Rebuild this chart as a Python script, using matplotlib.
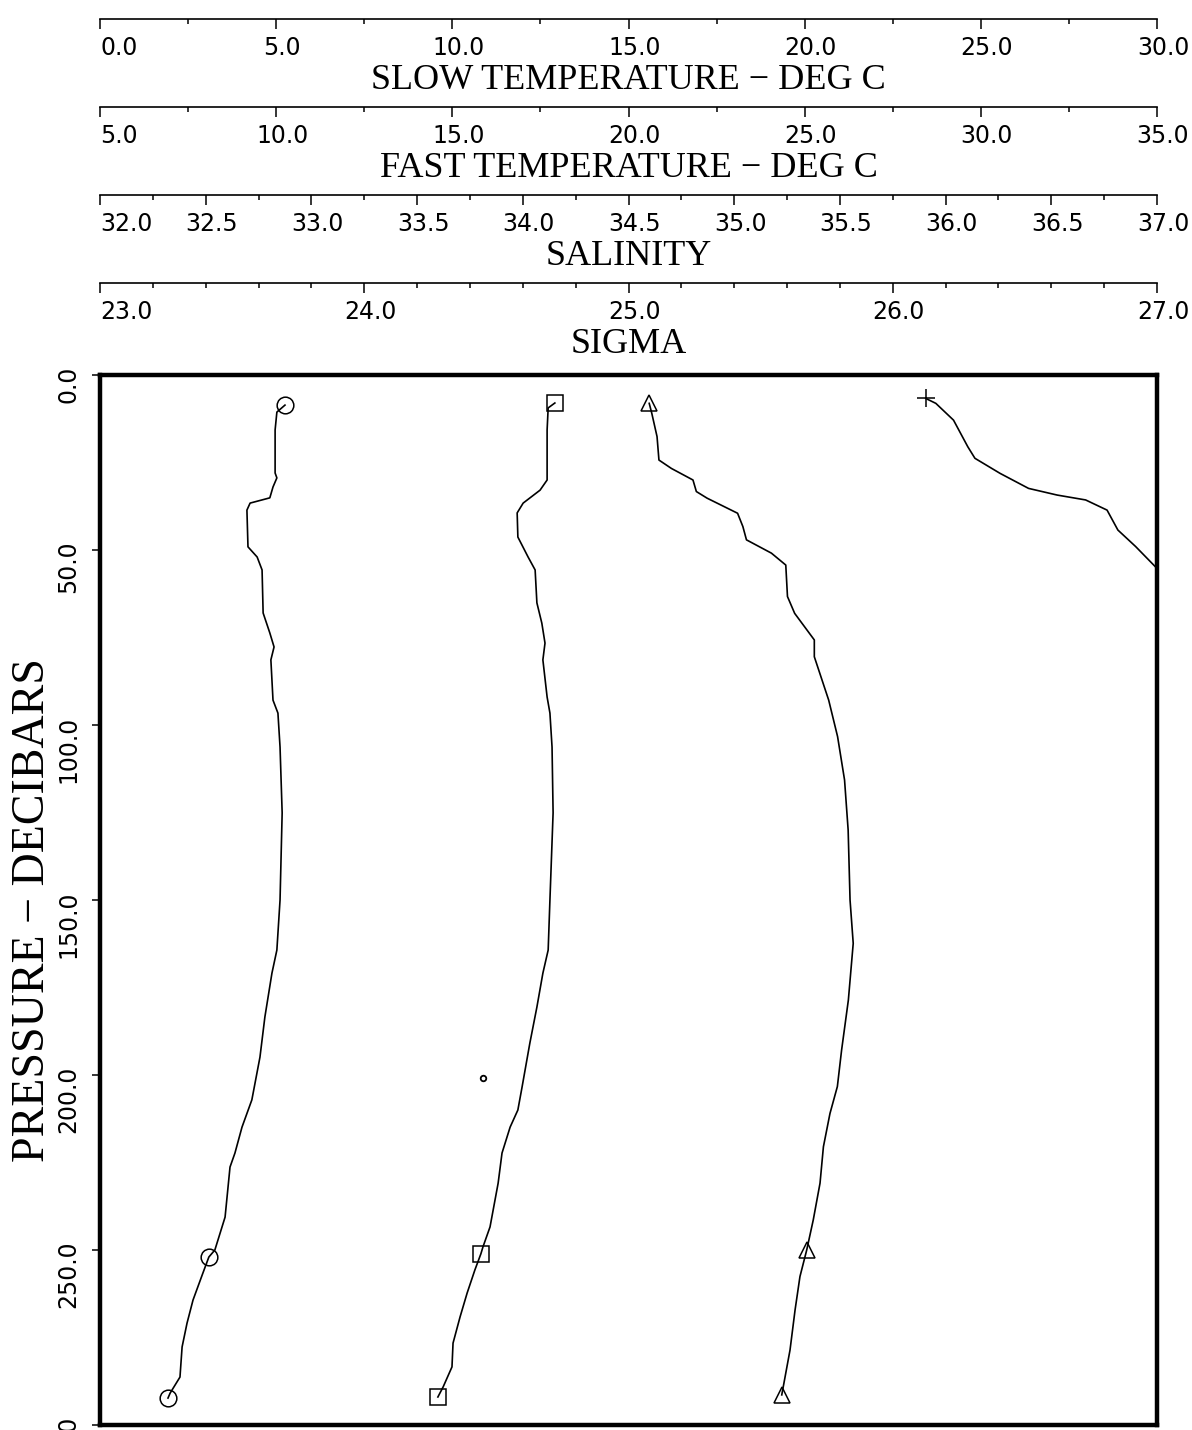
import matplotlib
matplotlib.use("Agg")
import matplotlib.pyplot as plt
from matplotlib.ticker import MultipleLocator, FormatStrFormatter
from matplotlib.transforms import ScaledTranslation

# ---- data ----
slow_temp = [5.25, 5.02, 4.97, 4.97, 5.02, 4.91, 4.82, 4.26, 4.17, 4.20, 4.46, 4.60,
             4.63, 4.82, 4.94, 4.85, 4.91, 5.05, 5.11, 5.17, 5.11, 5.02, 4.88, 4.68,
             4.54, 4.31, 4.03, 3.83, 3.69, 3.55, 3.26, 3.09, 2.92, 2.64, 2.47, 2.33,
             2.27, 1.99, 1.93]
slow_pres = [8.6, 10.6, 15.7, 28.0, 29.4, 32.0, 35.1, 36.6, 38.6, 49.1, 52.0, 55.7,
             68.0, 73.7, 77.7, 81.4, 92.9, 96.6, 106.3, 125.1, 150.0, 164.3, 170.9, 183.4,
             194.9, 207.1, 214.9, 222.3, 226.3, 240.6, 250.0, 252.0, 256.6, 264.3, 270.9, 277.7,
             286.3, 290.9, 292.3]
slow_marks = [8.6, 252.0, 292.3]

fast_temp = [17.91, 17.72, 17.69, 17.69, 17.49, 17.01, 16.84, 16.86, 17.15, 17.35,
             17.40, 17.54, 17.63, 17.57, 17.69, 17.77, 17.83, 17.86, 17.77, 17.72,
             17.57, 17.40, 17.20, 16.98, 16.86, 16.64, 16.41, 16.30, 16.07, 15.87,
             15.81, 15.64, 15.42, 15.22, 15.02, 14.99, 14.74, 14.59]
fast_pres = [8.0, 9.4, 15.7, 30.0, 32.9, 36.6, 39.4, 46.3, 52.0, 55.7,
             65.1, 70.9, 76.6, 81.4, 92.0, 96.6, 106.3, 125.1, 150.0, 164.3,
             170.9, 180.6, 190.9, 203.4, 210.0, 214.9, 222.3, 230.9, 243.4, 249.1,
             251.1, 255.7, 262.3, 269.1, 276.6, 283.4, 289.1, 292.0]
fast_marks = [8.0, 251.1, 292.0]
stray_temp = [15.87]
stray_pres = [200.9]

salinity = [34.598, 34.610, 34.635, 34.644, 34.703, 34.805, 34.821, 34.872, 35.016,
            35.041, 35.058, 35.176, 35.244, 35.252, 35.286, 35.379, 35.379, 35.447,
            35.489, 35.522, 35.539, 35.548, 35.563, 35.540, 35.508, 35.488, 35.453,
            35.422, 35.406, 35.374, 35.343, 35.311, 35.288, 35.264, 35.225]
sal_pres = [8.1, 10.9, 17.6, 24.3, 26.7, 30.0, 33.3, 35.2, 39.5,
            43.3, 47.1, 50.9, 54.3, 63.3, 68.1, 75.7, 80.5, 92.9,
            103.3, 115.7, 130.0, 150.0, 162.4, 178.6, 192.9, 203.3, 211.0,
            220.5, 230.9, 241.4, 250.0, 257.6, 267.1, 278.6, 291.4]
sal_marks = [8.1, 250.0, 291.4]

sigma = [26.125, 26.163, 26.230, 26.284, 26.311, 26.406, 26.514, 26.622, 26.730,
         26.811, 26.852, 26.919, 26.994]
sigma_pres = [6.7, 8.1, 12.9, 20.5, 23.8, 28.1, 32.4, 34.3, 35.7,
              38.6, 44.3, 49.0, 54.8]
sigma_marks = [6.7]

slow_ticks = [0.0, 5.0, 10.0, 15.0, 20.0, 25.0, 30.0]
fast_ticks = [5.0, 10.0, 15.0, 20.0, 25.0, 30.0, 35.0]
sal_ticks = [32.0, 32.5, 33.0, 33.5, 34.0, 34.5, 35.0, 35.5, 36.0, 36.5, 37.0]
sigma_ticks = [23.0, 24.0, 25.0, 26.0, 27.0]
pres_ticks = [0.0, 50.0, 100.0, 150.0, 200.0, 250.0, 300.0]

SERIF = "Liberation Serif"
SANS = "DejaVu Sans"

W, H = 1192, 1430
fig = plt.figure(figsize=(W / 100, H / 100), dpi=100)
fig.patch.set_facecolor("white")

left, right, top, bottom = 100, 1157, 375, 1425
box = [left / W, 1 - bottom / H, (right - left) / W, (bottom - top) / H]


def top_scale(y_px, ticks, minor, title):
    tax = fig.add_axes([box[0], 1 - y_px / H, box[2], 0.0001])
    tax.patch.set_visible(False)
    for side in ["top", "left", "right"]:
        tax.spines[side].set_visible(False)
    tax.spines["bottom"].set_linewidth(1.2)
    tax.set_yticks([])
    tax.set_xlim(ticks[0], ticks[-1])
    tax.set_xticks(ticks)
    tax.xaxis.set_minor_locator(MultipleLocator(minor))
    tax.xaxis.set_major_formatter(FormatStrFormatter("%.1f"))
    tax.tick_params(axis="x", which="major", direction="out", length=7, width=1.1,
                    labelsize=17, pad=5)
    tax.tick_params(axis="x", which="minor", direction="out", length=3.5, width=1.1)
    for lab in tax.get_xticklabels():
        lab.set_family(SANS)
    labs = tax.get_xticklabels()
    labs[0].set_horizontalalignment("left")
    shift = ScaledTranslation(0.06, 0, fig.dpi_scale_trans)
    for lab in labs[1:]:
        lab.set_transform(lab.get_transform() + shift)
    tax.set_xlabel(title, fontsize=26, family=SERIF, labelpad=3)
    return tax


top_scale(19, slow_ticks, 2.5, "SLOW TEMPERATURE \u2212 DEG C")
top_scale(107, fast_ticks, 2.5, "FAST TEMPERATURE \u2212 DEG C")
top_scale(195, sal_ticks, 0.25, "SALINITY")
top_scale(283, sigma_ticks, 0.2, "SIGMA")

ax = fig.add_axes(box)
ax.set_xlim(slow_ticks[0], slow_ticks[-1])
ax.set_ylim(pres_ticks[-1], pres_ticks[0])
ax.set_xticks([])
ax.set_yticks(pres_ticks)
ax.yaxis.set_major_formatter(FormatStrFormatter("%.1f"))
ax.tick_params(axis="y", direction="out", length=6, width=1.1, labelsize=17,
               labelrotation=90, pad=8)
for lab in ax.get_yticklabels():
    lab.set_family(SANS)
for s in ax.spines.values():
    s.set_linewidth(3.2)
ax.set_ylabel("PRESSURE \u2212 DECIBARS", fontsize=33, family=SERIF, va="center")
ax.yaxis.set_label_coords(-0.064, 0.49)

line_kw = dict(color="black", lw=1.2, mfc="none", mec="black", mew=1.1)


def marks_of(pres, marks):
    return [pres.index(m) for m in marks]


ax.plot(slow_temp, slow_pres, marker="o", ms=12,
        markevery=marks_of(slow_pres, slow_marks), **line_kw)

ax_fast = ax.twiny()
ax_fast.set_xlim(fast_ticks[0], fast_ticks[-1])
ax_fast.set_axis_off()
ax_fast.plot(fast_temp, fast_pres, marker="s", ms=11,
             markevery=marks_of(fast_pres, fast_marks), **line_kw)
ax_fast.plot(stray_temp, stray_pres, "o", ms=4, mfc="none", mec="black", mew=1.3)

ax_sal = ax.twiny()
ax_sal.set_xlim(sal_ticks[0], sal_ticks[-1])
ax_sal.set_axis_off()
ax_sal.plot(salinity, sal_pres, marker="^", ms=11,
            markevery=marks_of(sal_pres, sal_marks), **line_kw)

ax_sig = ax.twiny()
ax_sig.set_xlim(sigma_ticks[0], sigma_ticks[-1])
ax_sig.set_axis_off()
ax_sig.plot(sigma, sigma_pres, marker="+", ms=13,
            markevery=marks_of(sigma_pres, sigma_marks), **line_kw)

fig.savefig("out.png", dpi=100)
